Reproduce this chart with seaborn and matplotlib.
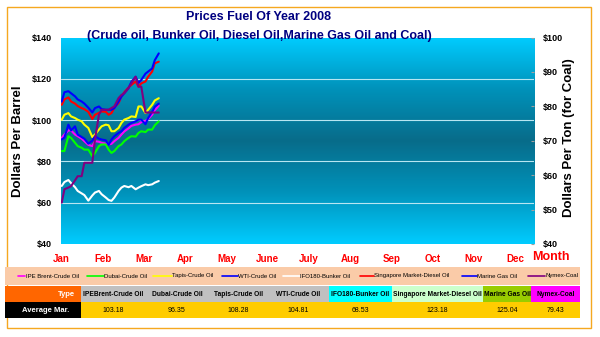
import numpy as np
import pandas as pd
import matplotlib
matplotlib.use("Agg")
import matplotlib.pyplot as plt
import seaborn as sns
from matplotlib.patches import Rectangle
from matplotlib.lines import Line2D
from matplotlib.colors import LinearSegmentedColormap
from matplotlib.ticker import FuncFormatter

# ---------------- data ----------------
dates = ["2008-01-01", "2008-01-03", "2008-01-06", "2008-01-08", "2008-01-11",
         "2008-01-13", "2008-01-16", "2008-01-18", "2008-01-21", "2008-01-24",
         "2008-01-26", "2008-01-29", "2008-01-31", "2008-02-03", "2008-02-05",
         "2008-02-07", "2008-02-09", "2008-02-12", "2008-02-14", "2008-02-16",
         "2008-02-19", "2008-02-21", "2008-02-24", "2008-02-26", "2008-02-28",
         "2008-03-02", "2008-03-04", "2008-03-07", "2008-03-09", "2008-03-12"]

ipe_brent = [91.4, 93.0, 95.0, 95.0, 93.0, 92.2, 91.0, 89.8, 88.0, 87.4,
             89.8, 89.5, 89.0, 88.6, 88.2, 88.5, 89.8, 91.4, 93.0, 94.5,
             96.0, 97.2, 97.8, 98.0, 99.0, 99.6, 100.5, 102.6, 104.8, 107.0]
dubai = [85.0, 85.0, 92.2, 91.4, 89.0, 87.4, 86.6, 85.7, 85.7, 82.5,
         84.1, 87.4, 88.2, 88.2, 85.7, 84.1, 85.0, 87.4, 88.2, 89.8,
         91.4, 92.2, 92.0, 93.8, 94.6, 94.2, 95.4, 95.4, 97.5, 99.4]
tapis = [100.2, 102.6, 103.4, 101.8, 101.0, 100.2, 99.4, 97.8, 96.2, 91.8,
         93.0, 95.4, 97.0, 97.8, 97.5, 94.6, 94.6, 96.2, 98.6, 100.2,
         101.0, 101.8, 101.5, 106.6, 106.6, 103.4, 105.0, 107.4, 109.5, 110.6]
wti = [90.6, 91.5, 97.8, 95.0, 97.0, 93.0, 91.8, 91.0, 88.6, 90.0,
       92.2, 91.0, 90.6, 90.2, 88.0, 90.6, 92.2, 93.8, 94.6, 96.2,
       97.8, 98.6, 99.4, 100.2, 100.2, 98.0, 101.0, 104.0, 106.5, 108.0]
ifo180 = [68.1, 70.0, 71.0, 69.5, 67.5, 65.7, 64.5, 63.7, 61.0, 63.5,
          64.9, 65.7, 64.1, 62.5, 61.3, 60.9, 62.5, 65.7, 67.3, 68.1,
          67.5, 68.1, 66.5, 67.3, 68.0, 68.9, 68.5, 68.9, 69.7, 70.5]
singapore_diesel = [107.4, 110.0, 111.0, 109.0, 108.0, 106.8, 105.8, 105.3, 104.0, 100.5,
                    102.6, 103.5, 104.2, 104.0, 102.6, 103.4, 106.0, 108.2, 111.4, 113.5,
                    115.8, 117.0, 118.7, 116.2, 117.8, 118.7, 121.0, 123.5, 127.5, 128.3]
marine_gas = [109.0, 113.5, 114.0, 113.0, 111.5, 110.0, 109.0, 108.0, 106.0, 103.7,
              105.8, 106.6, 105.3, 105.0, 105.0, 105.0, 105.8, 109.0, 111.4, 113.0,
              115.5, 118.5, 121.0, 118.0, 119.5, 122.5, 123.5, 125.0, 129.0, 132.3]
nymex_coal = [52.0, 55.9, 56.4, 56.8, 58.5, 59.7, 59.7, 63.6, 63.6, 63.6,
              70.3, 77.6, 79.0, 79.0, 79.0, 79.5, 80.0, 82.4, 83.3, 83.8,
              85.3, 86.7, 88.6, 85.7, 85.7, 78.2, 78.2, 78.2, 78.2, 78.2]

oil_names = ["IPE Brent-Crude Oil", "Dubai-Crude Oil", "Tapis-Crude Oil", "WTI-Crude Oil",
             "IFO180-Bunker Oil", "Singapore Market-Diesel Oil", "Marine Gas Oil"]
coal_name = "Nymex-Coal"
series_colors = ["#FF00FF", "#00FF00", "#FFFF00", "#0000FF", "#FFFFFF",
                 "#FF0000", "#0000FF", "#800080"]

months = ["Jan", "Feb", "Mar", "Apr", "May", "June", "July", "Aug", "Sep", "Oct", "Nov", "Dec"]
left_ticks = [40, 60, 80, 100, 120, 140]
right_ticks = [40, 50, 60, 70, 80, 90, 100]

table_headers = ["IPEBrent-Crude Oil", "Dubai-Crude Oil", "Tapis-Crude Oil", "WTI-Crude Oil",
                 "IFO180-Bunker Oil", "Singapore Market-Diesel Oil", "Marine Gas Oil", "Nymex-Coal"]
header_colors = ["#C0C0C0", "#C0C0C0", "#C0C0C0", "#C0C0C0",
                 "#00FFFF", "#CCFFCC", "#99CC00", "#FF00FF"]
avg_march = [103.18, 96.35, 108.28, 104.81, 68.53, 123.18, 125.04, 79.43]

# ---------------- frames ----------------
dt = pd.to_datetime(pd.Series(dates))
pos = (dt.dt.month - 1) + (dt.dt.day - 1) / dt.dt.days_in_month
oil_values = [ipe_brent, dubai, tapis, wti, ifo180, singapore_diesel, marine_gas]
df_oil = pd.concat([pd.DataFrame({"pos": pos, "price": v, "series": n})
                    for n, v in zip(oil_names, oil_values)], ignore_index=True)
df_coal = pd.DataFrame({"pos": pos, "price": nymex_coal, "series": coal_name})

sns.set_theme(style="white")
plt.rcParams["font.family"] = ["Liberation Sans", "DejaVu Sans"]

W, H = 600, 337
fig = plt.figure(figsize=(W / 100, H / 100), dpi=100)
fig.patch.set_facecolor("white")

def fx(x):
    return x / W

def fy(y):
    return 1 - y / H

L, R, T, B = 60.5, 534, 37.5, 244
rect = [fx(L), fy(B), (R - L) / W, (B - T) / H]

# background gradient axes
bg = fig.add_axes(rect, zorder=0)
cmap = LinearSegmentedColormap.from_list("g", ["#00CCFF", "#0092BA", "#086C8A", "#0092BA", "#00CCFF"])
grad = np.linspace(0, 1, 256).reshape(-1, 1)
bg.imshow(grad, aspect="auto", cmap=cmap, extent=[0, 1, 0, 1])
bg.set_axis_off()

ax = fig.add_axes(rect, zorder=1)
ax.patch.set_visible(False)
palette = dict(zip(oil_names, series_colors[:7]))
sns.lineplot(data=df_oil, x="pos", y="price", hue="series", hue_order=oil_names,
             palette=palette, ax=ax, legend=False, linewidth=1.5,
             estimator=None, sort=False)
ax.set_xlim(-0.03, 11.46)
ax.set_ylim(40, 140)
ax.set_yticks(left_ticks)
ax.yaxis.set_major_formatter(FuncFormatter(lambda v, p: f"${v:.0f}"))
ax.set_xticks(range(12))
ax.set_xticklabels(months)
ax.tick_params(axis="y", length=0, pad=6, labelsize=6.5, labelcolor="black")
ax.tick_params(axis="x", length=0, pad=7, labelsize=7, labelcolor="#FF0000")
for lab in ax.get_yticklabels() + ax.get_xticklabels():
    lab.set_fontweight("bold")
ax.yaxis.grid(True, color="#B8E6F2", linewidth=0.8)
ax.xaxis.grid(False)
gl = ax.get_ygridlines()
gl[0].set_visible(False)
gl[-1].set_visible(False)
ax.set_xlabel("")
ax.set_ylabel("")
for s in ax.spines.values():
    s.set_visible(False)

ax2 = ax.twinx()
sns.lineplot(data=df_coal, x="pos", y="price", color=series_colors[7], ax=ax2,
             legend=False, linewidth=1.5, estimator=None, sort=False)
ax2.set_ylim(40, 100)
ax2.set_yticks(right_ticks)
ax2.yaxis.set_major_formatter(FuncFormatter(lambda v, p: f"${v:.0f}"))
ax2.tick_params(axis="y", direction="in", length=2.5, width=0.8, color="#A0A0A0",
                pad=6, labelsize=6.5, labelcolor="black")
for lab in ax2.get_yticklabels():
    lab.set_fontweight("bold")
ax2.set_ylabel("")
ax2.set_xlabel("")
ax2.grid(False)
for s in ax2.spines.values():
    s.set_visible(False)

# titles and axis labels
fig.text(fx(259), fy(17), "Prices Fuel Of Year 2008", ha="center", va="center",
         fontsize=9, fontweight="bold", color="#000080")
fig.text(fx(259), fy(36), "(Crude oil, Bunker Oil, Diesel Oil,Marine Gas Oil and Coal)",
         ha="center", va="center", fontsize=9, fontweight="bold", color="#000080")
fig.text(fx(18), fy(141), "Dollars Per Barrel", rotation=90, ha="center", va="center",
         fontsize=9.5, fontweight="bold", color="black")
fig.text(fx(569), fy(138), "Dollars Per Ton (for Coal)", rotation=90, ha="center", va="center",
         fontsize=9.5, fontweight="bold", color="black")
fig.text(fx(551), fy(257), "Month", ha="center", va="center",
         fontsize=9, fontweight="bold", color="#FF0000")

# outer border
fig.add_artist(Rectangle((fx(7), fy(328)), (591 - 7) / W, (328 - 7) / H,
                         transform=fig.transFigure, fill=False,
                         edgecolor="#F5A820", linewidth=1.0))

# legend band
fig.add_artist(Rectangle((fx(5), fy(285)), (580 - 5) / W, (285 - 267) / H,
                         transform=fig.transFigure, facecolor="#FACBA8", edgecolor="none"))
legend_names = oil_names + [coal_name]
leg_line_x = [(18, 25), (87, 104), (153, 172), (222, 238), (283, 300), (360, 374), (462, 477), (528, 545)]
for (x0, x1), name, col in zip(leg_line_x, legend_names, series_colors):
    fig.add_artist(Line2D([fx(x0), fx(x1)], [fy(276), fy(276)], transform=fig.transFigure,
                          color=col, linewidth=1.2))
    fig.text(fx(x1 + 0.5), fy(276), name, ha="left", va="center", fontsize=4.3, color="black")

# table
edges = [5, 81, 146, 208, 268, 329, 392, 483, 531, 580]
r0, r1, r2 = 286, 302, 318
fig.add_artist(Rectangle((fx(edges[0]), fy(r1)), (edges[1] - edges[0]) / W, (r1 - r0) / H,
                         transform=fig.transFigure, facecolor="#FF6600", edgecolor="none"))
fig.text(fx(75), fy((r0 + r1) / 2), "Type", ha="right", va="center",
         fontsize=5.5, fontweight="bold", color="white")
fig.add_artist(Rectangle((fx(edges[0]), fy(r2)), (edges[1] - edges[0]) / W, (r2 - r1) / H,
                         transform=fig.transFigure, facecolor="black", edgecolor="none"))
fig.text(fx(46), fy((r1 + r2) / 2), "Average Mar.", ha="center", va="center",
         fontsize=5.5, fontweight="bold", color="white")
fig.add_artist(Rectangle((fx(edges[1]), fy(r2)), (edges[-1] - edges[1]) / W, (r2 - r1) / H,
                         transform=fig.transFigure, facecolor="#FFCC00", edgecolor="none"))
for i, (hdr, col, val) in enumerate(zip(table_headers, header_colors, avg_march)):
    x0, x1 = edges[i + 1], edges[i + 2]
    fig.add_artist(Rectangle((fx(x0), fy(r1)), (x1 - x0) / W, (r1 - r0) / H,
                             transform=fig.transFigure, facecolor=col, edgecolor="none"))
    cx = (x0 + x1) / 2
    fig.text(fx(cx), fy((r0 + r1) / 2), hdr, ha="center", va="center",
             fontsize=4.8, fontweight="bold", color="black")
    fig.text(fx(cx), fy((r1 + r2) / 2), f"{val:.2f}", ha="center", va="center",
             fontsize=5, color="black")

fig.savefig("out.png", dpi=100, facecolor="white")
